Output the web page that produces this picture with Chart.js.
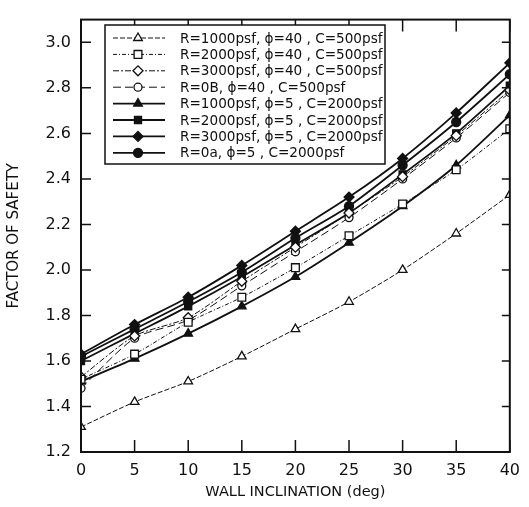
<!DOCTYPE html>
<html>
<head>
<meta charset="utf-8">
<script src="https://cdn.jsdelivr.net/npm/chart.js@4.4.0/dist/chart.umd.min.js"></script>
<style>
    html, body { margin: 0; padding: 0; background: #fff; }
    canvas { display: block; }
</style>
</head>
<body>
<canvas id="fsChart" width="529" height="507"></canvas>
<script>
// ---------------------------------------------------------------------------
// Data
// ---------------------------------------------------------------------------
const inclination = [0, 5, 10, 15, 20, 25, 30, 35, 40];
const yTicks = [1.2, 1.4, 1.6, 1.8, 2.0, 2.2, 2.4, 2.6, 2.8, 3.0];

const r1000Phi40 = [1.31, 1.42, 1.51, 1.62, 1.74, 1.86, 2.00, 2.16, 2.33];
const r2000Phi40 = [1.52, 1.63, 1.77, 1.88, 2.01, 2.15, 2.29, 2.44, 2.62];
const r3000Phi40 = [1.53, 1.71, 1.79, 1.95, 2.10, 2.25, 2.41, 2.59, 2.79];
const r0Phi40    = [1.48, 1.70, 1.78, 1.93, 2.08, 2.23, 2.40, 2.58, 2.78];
const r1000Phi5  = [1.51, 1.61, 1.72, 1.84, 1.97, 2.12, 2.28, 2.46, 2.68];
const r2000Phi5  = [1.60, 1.72, 1.84, 1.97, 2.11, 2.25, 2.42, 2.60, 2.81];
const r3000Phi5  = [1.63, 1.76, 1.88, 2.02, 2.17, 2.32, 2.49, 2.69, 2.91];
const r0Phi5     = [1.62, 1.74, 1.86, 1.99, 2.14, 2.28, 2.46, 2.65, 2.86];

const seriesLabels = [
    "R=1000psf, \u03d5=40 , C=500psf",
    "R=2000psf, \u03d5=40 , C=500psf",
    "R=3000psf, \u03d5=40 , C=500psf",
    "R=0B, \u03d5=40 , C=500psf",
    "R=1000psf, \u03d5=5 , C=2000psf",
    "R=2000psf, \u03d5=5 , C=2000psf",
    "R=3000psf, \u03d5=5 , C=2000psf",
    "R=0a, \u03d5=5 , C=2000psf",
];

// ---------------------------------------------------------------------------
// Styles
// ---------------------------------------------------------------------------
const INK = "#111";
const FONT = "'DejaVu Sans', sans-serif";

function series(label, values, style, radius, filled, dash, width) {
    return {
        label,
        data: inclination.map((x, i) => ({ x, y: values[i] })),
        borderColor: INK,
        borderWidth: width,
        borderDash: dash,
        pointStyle: style,
        pointRadius: radius,
        pointBorderWidth: 1.3,
        pointBorderColor: INK,
        pointBackgroundColor: filled ? INK : "#fff",
        tension: 0.25,
        fill: false,
    };
}

const datasets = [
    series(seriesLabels[0], r1000Phi40, "triangle", 5, false, [5, 2], 1),
    series(seriesLabels[1], r2000Phi40, "rect", 5.5, false, [4, 2, 1, 2], 1),
    series(seriesLabels[2], r3000Phi40, "rectRot", 5, false, [6, 2, 2, 2], 1),
    series(seriesLabels[3], r0Phi40, "circle", 4, false, [8, 4], 1),
    series(seriesLabels[4], r1000Phi5, "triangle", 5, true, [], 1.8),
    series(seriesLabels[5], r2000Phi5, "rect", 5, true, [], 1.8),
    series(seriesLabels[6], r3000Phi5, "rectRot", 5, true, [], 1.8),
    series(seriesLabels[7], r0Phi5, "circle", 4.5, true, [], 1.8),
];

// ---------------------------------------------------------------------------
// Frame with inward ticks on all four sides
// ---------------------------------------------------------------------------
const framePlugin = {
    id: "frame",
    afterDatasetsDraw(chart) {
        const { ctx, chartArea: a, scales } = chart;
        ctx.save();
        ctx.strokeStyle = INK;
        ctx.lineWidth = 1.5;
        for (const v of inclination) {
            const px = scales.x.getPixelForValue(v);
            ctx.beginPath();
            ctx.moveTo(px, a.bottom); ctx.lineTo(px, a.bottom - 12);
            ctx.moveTo(px, a.top); ctx.lineTo(px, a.top + 12);
            ctx.stroke();
        }
        for (const v of yTicks) {
            const py = scales.y.getPixelForValue(v);
            ctx.beginPath();
            ctx.moveTo(a.left, py); ctx.lineTo(a.left + 10, py);
            ctx.moveTo(a.right, py); ctx.lineTo(a.right - 8, py);
            ctx.stroke();
        }
        ctx.lineWidth = 2;
        ctx.strokeRect(a.left, a.top, a.right - a.left, a.bottom - a.top);
        ctx.restore();
    },
};

// ---------------------------------------------------------------------------
// Boxed legend in the upper left of the plot
// ---------------------------------------------------------------------------
const legendPlugin = {
    id: "boxLegend",
    afterDraw(chart) {
        const { ctx } = chart;
        const box = { x: 105, y: 25, w: 280, h: 139 };
        ctx.save();
        ctx.fillStyle = "#fff";
        ctx.fillRect(box.x, box.y, box.w, box.h);
        ctx.strokeStyle = INK;
        ctx.lineWidth = 1.5;
        ctx.strokeRect(box.x, box.y, box.w, box.h);

        ctx.font = "13.6px " + FONT;
        ctx.textBaseline = "middle";
        chart.data.datasets.forEach((ds, i) => {
            const y = 38 + i * 16.4;
            ctx.strokeStyle = INK;
            ctx.lineWidth = ds.borderWidth;
            ctx.setLineDash(ds.borderDash);
            ctx.beginPath();
            ctx.moveTo(113, y); ctx.lineTo(165, y);
            ctx.stroke();
            ctx.setLineDash([]);
            ctx.fillStyle = ds.pointBackgroundColor;
            ctx.lineWidth = ds.pointBorderWidth;
            Chart.helpers.drawPoint(ctx, {
                pointStyle: ds.pointStyle,
                radius: ds.pointRadius,
                rotation: 0,
                borderWidth: ds.pointBorderWidth,
            }, 138, y);
            ctx.fillStyle = INK;
            ctx.fillText(ds.label, 180, y + 1);
        });
        ctx.restore();
    },
};

// ---------------------------------------------------------------------------
// Chart
// ---------------------------------------------------------------------------
new Chart(document.getElementById("fsChart"), {
    type: "line",
    data: { datasets },
    plugins: [framePlugin, legendPlugin],
    options: {
        responsive: false,
        animation: false,
        layout: { padding: { top: 8, right: 7, left: 0, bottom: 0 } },
        plugins: {
            legend: { display: false },
            tooltip: { enabled: false },
        },
        scales: {
            x: {
                type: "linear",
                min: 0,
                max: 40,
                afterFit: (s) => { s.height = 55; },
                afterBuildTicks: (s) => { s.ticks = inclination.map(v => ({ value: v })); },
                grid: { display: false, drawTicks: false },
                border: { display: false },
                ticks: {
                    color: INK,
                    padding: 9,
                    font: { family: FONT, size: 16 },
                    callback: (v) => String(v),
                },
                title: {
                    display: true,
                    text: "WALL INCLINATION (deg)",
                    color: INK,
                    font: { family: FONT, size: 14.5 },
                    padding: { top: 0, bottom: 6 },
                },
            },
            y: {
                min: 1.2,
                max: 3.1,
                afterFit: (s) => { s.width = 81; },
                afterBuildTicks: (s) => { s.ticks = yTicks.map(v => ({ value: v })); },
                grid: { display: false, drawTicks: false },
                border: { display: false },
                ticks: {
                    color: INK,
                    padding: 10,
                    font: { family: FONT, size: 16 },
                    callback: (v) => v.toFixed(1),
                },
                title: {
                    display: true,
                    text: "FACTOR OF SAFETY",
                    color: INK,
                    font: { family: FONT, size: 15 },
                    padding: { top: 5, bottom: 0 },
                },
            },
        },
    },
});
</script>
</body>
</html>
